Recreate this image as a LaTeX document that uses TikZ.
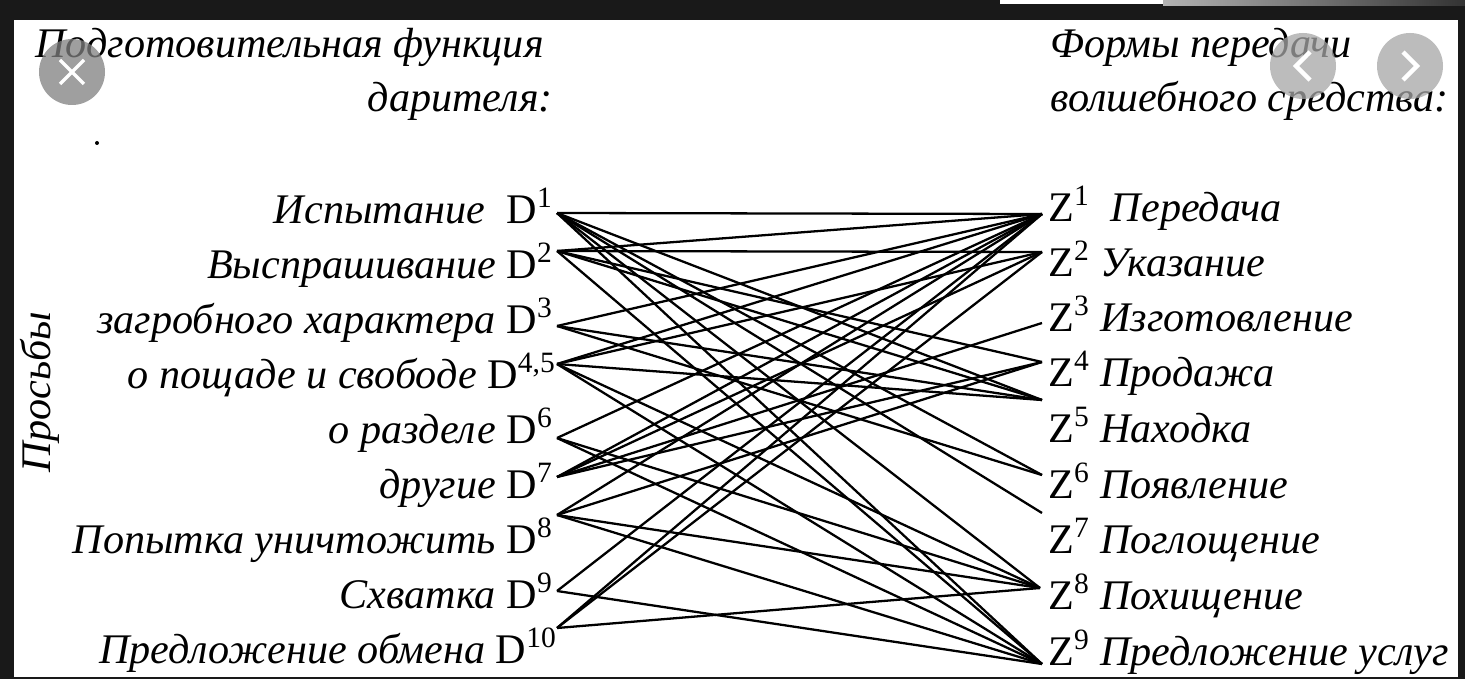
\documentclass[tikz,border=0pt]{standalone}
\usepackage{fontspec}
\setmainfont{Liberation Serif}
\begin{document}
\begin{tikzpicture}[x=0.02cm,y=-0.02cm,
  lbl/.style={font=\fontsize{24}{26}\selectfont\itshape, inner sep=0pt},
  link/.style={line width=1.3pt},
  knob/.style={circle, fill=gray, opacity=0.75, minimum size=66*0.02cm, inner sep=0pt}]
	% frame of the screenshot
	\fill[black!90] (0,0) rectangle (1465,679);
	\fill[white] (14,20) rectangle (1458,677);
	\fill[white] (1000,0) rectangle (1163,4);
	\shade[left color=gray!60, right color=black!80] (1163,0) rectangle (1465,6);
	\useasboundingbox (0,0) rectangle (1465,679);

	% headings
	\node[lbl, anchor=base west] (head1) at (35,58) {Подготовительная функция};
	\node[lbl, anchor=base east] (head2) at (553,112) {дарителя:};
	\node[lbl, anchor=base west] (head3) at (1050,58) {Формы передачи};
	\node[lbl, anchor=base west] (head4) at (1050,112) {волшебного средства:};
	\node[lbl, rotate=90] (ask) at (40,392) {Просьбы};
	\fill (97,143) circle (2);

	% left column
	\node[lbl, anchor=base east] (D1)  at (553,223) {Испытание\enspace{\upshape D\textsuperscript{1}}};
	\node[lbl, anchor=base east] (D2)  at (553,278) {Выспрашивание {\upshape D\textsuperscript{2}}};
	\node[lbl, anchor=base east] (D3)  at (553,333) {загробного характера {\upshape D\textsuperscript{3}}};
	\node[lbl, anchor=base east] (D4)  at (556,388) {о пощаде и свободе {\upshape D\textsuperscript{4,5}}};
	\node[lbl, anchor=base east] (D6)  at (553,443) {о разделе {\upshape D\textsuperscript{6}}};
	\node[lbl, anchor=base east] (D7)  at (553,498) {другие {\upshape D\textsuperscript{7}}};
	\node[lbl, anchor=base east] (D8)  at (553,553) {Попытка уничтожить {\upshape D\textsuperscript{8}}};
	\node[lbl, anchor=base east] (D9)  at (553,608) {Схватка {\upshape D\textsuperscript{9}}};
	\node[lbl, anchor=base east] (D10) at (557,663) {Предложение обмена {\upshape D\textsuperscript{10}}};

	% right column
	\node[lbl, anchor=base west] (Z1) at (1048,221) {{\upshape Z\textsuperscript{1}}\enspace Передача};
	\node[lbl, anchor=base west] (Z2) at (1048,276) {{\upshape Z\textsuperscript{2}} Указание};
	\node[lbl, anchor=base west] (Z3) at (1048,331) {{\upshape Z\textsuperscript{3}} Изготовление};
	\node[lbl, anchor=base west] (Z4) at (1048,386) {{\upshape Z\textsuperscript{4}} Продажа};
	\node[lbl, anchor=base west] (Z5) at (1048,442) {{\upshape Z\textsuperscript{5}} Находка};
	\node[lbl, anchor=base west] (Z6) at (1048,498) {{\upshape Z\textsuperscript{6}} Появление};
	\node[lbl, anchor=base west] (Z7) at (1048,553) {{\upshape Z\textsuperscript{7}} Поглощение};
	\node[lbl, anchor=base west] (Z8) at (1048,609) {{\upshape Z\textsuperscript{8}} Похищение};
	\node[lbl, anchor=base west] (Z9) at (1048,665) {{\upshape Z\textsuperscript{9}} Предложение услуг};

	% line ends
	\coordinate (d1) at (557,213);
	\coordinate (d2) at (557,251);
	\coordinate (d3) at (557,326);
	\coordinate (d4) at (557,364);
	\coordinate (d6) at (557,438);
	\coordinate (d7) at (557,477);
	\coordinate (d8) at (557,515);
	\coordinate (d9) at (557,591);
	\coordinate (d10) at (557,628);
	\coordinate (z1) at (1042,214);
	\coordinate (z2) at (1042,252);
	\coordinate (z3) at (1042,323);
	\coordinate (z4) at (1042,362);
	\coordinate (z5) at (1042,400);
	\coordinate (z6) at (1042,475);
	\coordinate (z7) at (1042,513);
	\coordinate (z8) at (1040,588);
	\coordinate (z9) at (1042,664);

	\foreach \a/\b in {1/1, 1/5, 1/6, 1/7, 1/8, 1/9,
	                   2/1, 2/2, 2/4, 2/5, 2/9,
	                   3/1, 3/5, 3/6,
	                   4/1, 4/2, 4/5, 4/8, 4/9,
	                   6/1, 6/8, 6/9,
	                   7/1, 7/2, 7/3, 7/4,
	                   8/1, 8/4, 8/8, 8/9,
	                   9/1, 9/9,
	                   10/1, 10/2, 10/8}
		\path[link] (d\a) edge (z\b);

	% viewer buttons over the scan
	\node[knob] (close) at (72,72) {};
	\draw[white, line width=2pt] (60,60) -- (84,84) (84,60) -- (60,84);
	\node[knob, fill=gray!70] (prev) at (1303,66) {};
	\node[knob, fill=gray!70] (next) at (1410,66) {};
	\draw[white, line width=2.5pt] (1310,52) -- (1296,66) -- (1310,80);
	\draw[white, line width=2.5pt] (1403,52) -- (1417,66) -- (1403,80);
\end{tikzpicture}
\end{document}
